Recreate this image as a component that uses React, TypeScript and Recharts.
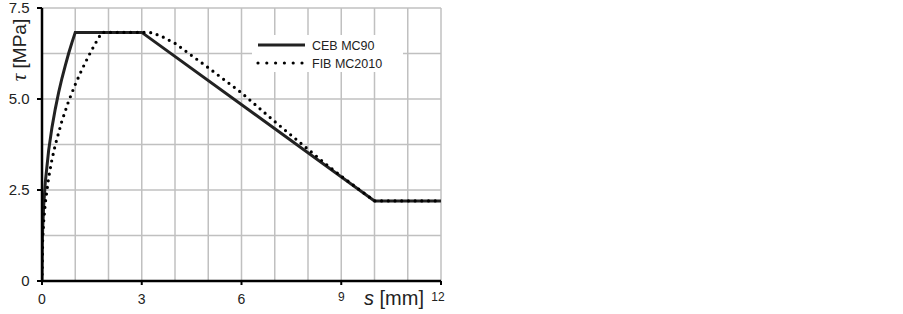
import React from 'react';
import { LineChart, Line, XAxis, YAxis, CartesianGrid, Legend } from 'recharts';

// CEB MC90 bond-slip curve (s [mm], tau [MPa])
const cebSlip = [0, 0.01, 0.02, 0.05, 0.1, 0.2, 0.3, 0.4, 0.5, 0.6, 0.7, 0.8, 0.9, 1.0, 3.0, 10.0, 12.0];
const cebTau = [0, 1.08, 1.43, 2.06, 2.72, 3.59, 4.22, 4.73, 5.18, 5.57, 5.92, 6.25, 6.55, 6.83, 6.83, 2.2, 2.2];

// FIB MC2010 bond-slip curve
const fibSlip = [0, 0.02, 0.05, 0.1, 0.2, 0.3, 0.4, 0.6, 0.8, 1.0, 1.2, 1.4, 1.6, 1.8, 3.0, 3.3, 3.6, 4.0, 5.0, 6.0, 7.0, 8.0, 8.5, 9.0, 9.5, 10.0, 12.0];
const fibTau = [0, 1.13, 1.63, 2.15, 2.84, 3.34, 3.74, 4.4, 4.94, 5.4, 5.81, 6.18, 6.52, 6.83, 6.83, 6.82, 6.72, 6.53, 5.86, 5.17, 4.38, 3.62, 3.24, 2.88, 2.54, 2.2, 2.2];

const xTicks = [0, 3, 6, 9, 12];
const yTicks = [0, 2.5, 5, 7.5];
const yTickLabels = ['0', '2.5', '5.0', '7.5'];
const xGrid = [1, 2, 3, 4, 5, 6, 7, 8, 9, 10, 11, 12];
const yGrid = [1.25, 2.5, 3.75, 5, 6.25, 7.5];

const seriesNames = ['CEB MC90', 'FIB MC2010'];
const xTitle = ['s', ' [mm]'];
const yTitle = ['τ', ' [MPa]'];

const cebData = cebSlip.map((s, i) => ({ s, tau: cebTau[i] }));
const fibData = fibSlip.map((s, i) => ({ s, tau: fibTau[i] }));

const FONT = '"Liberation Sans", Arial, sans-serif';
const TEXT = '#222';

const XTick = (props: any) => {
  const { x, payload } = props;
  const v = payload.value;
  const big = v < 9;
  const fs = big ? 14 : 12;
  const baseline = big ? 303.5 : 300.5;
  return (
    <text x={v === 12 ? x - 3 : x} y={baseline} textAnchor="middle" fontSize={fs} fontFamily={FONT} fill={TEXT}>
      {String(v)}
    </text>
  );
};

const YTick = (props: any) => {
  const { y, payload } = props;
  const v = payload.value;
  const label = yTickLabels[yTicks.indexOf(v)] ?? String(v);
  return (
    <text x={29.5} y={y + 5.4} textAnchor="end" fontSize={15} fontFamily={FONT} fill={TEXT}>
      {label}
    </text>
  );
};

const LegendBox = () => (
  <svg width={151} height={37} style={{ display: 'block', background: '#fff' }}>
    <line x1={6} y1={10} x2={53} y2={10} stroke="#222" strokeWidth={3} />
    <text x={60} y={14.5} fontSize={12.5} fontFamily={FONT} fill={TEXT}>{seriesNames[0]}</text>
    <line x1={6} y1={28} x2={51} y2={28} stroke="#000" strokeWidth={3.2} strokeDasharray="0 8.8" strokeLinecap="round" />
    <text x={60} y={32.5} fontSize={12.5} fontFamily={FONT} fill={TEXT}>{seriesNames[1]}</text>
  </svg>
);

export default function App() {
  return (
    <div style={{ position: 'absolute', left: 0, top: 0, width: 460, height: 314 }}>
      <LineChart width={460} height={314} margin={{ top: 8, right: 19, bottom: 0, left: 0 }} style={{ overflow: 'visible' }}>
        <CartesianGrid
          stroke="#c0c0c0"
          strokeWidth={1.5}
          horizontalValues={yGrid}
          verticalValues={xGrid}
        />
        <Line
          data={cebData}
          dataKey="tau"
          name={seriesNames[0]}
          type="linear"
          stroke="#222"
          strokeWidth={3}
          dot={false}
          activeDot={false}
          isAnimationActive={false}
        />
        <Line
          data={fibData}
          dataKey="tau"
          name={seriesNames[1]}
          type="linear"
          stroke="#000"
          strokeWidth={3.2}
          strokeDasharray="0 6.7"
          strokeLinecap="round"
          dot={false}
          activeDot={false}
          isAnimationActive={false}
        />
        <XAxis
          type="number"
          dataKey="s"
          domain={[0, 12]}
          ticks={xTicks}
          allowDataOverflow
          height={33}
          tickSize={4}
          axisLine={{ stroke: '#000', strokeWidth: 2.5 }}
          tickLine={{ stroke: '#000', strokeWidth: 2 }}
          tick={<XTick />}
          interval={0}
        />
        <YAxis
          type="number"
          domain={[0, 7.5]}
          ticks={yTicks}
          allowDataOverflow
          width={42}
          tickSize={5}
          interval={0}
          axisLine={{ stroke: '#000', strokeWidth: 2.5 }}
          tickLine={{ stroke: '#000', strokeWidth: 2 }}
          tick={<YTick />}
        />
        <Legend
          layout="vertical"
          align="center"
          verticalAlign="middle"
          content={<LegendBox />}
          wrapperStyle={{ left: 252, top: 35, width: 151, height: 37, margin: 0, padding: 0 }}
        />
      </LineChart>
      <svg
        width={460}
        height={314}
        style={{ position: 'absolute', left: 0, top: 0, pointerEvents: 'none', overflow: 'visible' }}
      >
        <text
          x={26}
          y={50}
          transform="rotate(-90, 26, 50)"
          textAnchor="middle"
          fontSize={19}
          fontFamily={FONT}
          fill={TEXT}
        >
          <tspan fontStyle="italic" fontFamily='"Liberation Serif", serif' fontSize={21}>{yTitle[0]}</tspan>
          <tspan>{yTitle[1]}</tspan>
        </text>
        <text x={394} y={305} textAnchor="middle" fontSize={20} fontFamily={FONT} fill={TEXT}>
          <tspan fontStyle="italic">{xTitle[0]}</tspan>
          <tspan>{xTitle[1]}</tspan>
        </text>
      </svg>
    </div>
  );
}
